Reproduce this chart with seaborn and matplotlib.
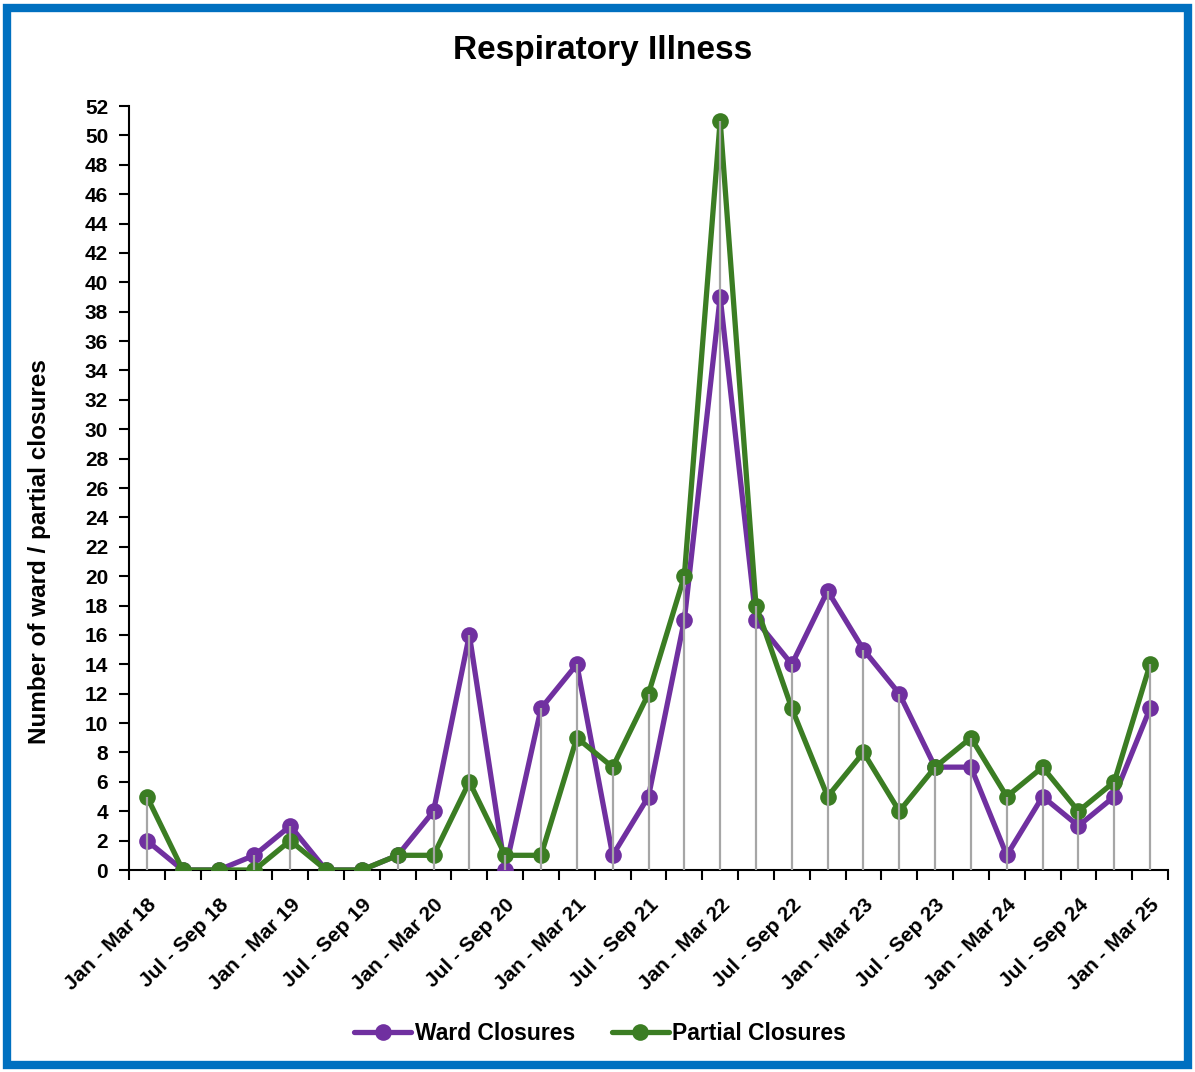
import numpy as np
import pandas as pd
import matplotlib
matplotlib.use("Agg")
import matplotlib.pyplot as plt
from matplotlib.patches import Rectangle
from matplotlib.ticker import FixedLocator, NullFormatter
import seaborn as sns

# Quarterly closures, Jan-Mar 2018 to Jan-Mar 2025
quarters = [
    "Jan - Mar 18", "Apr - Jun 18", "Jul - Sep 18", "Oct - Dec 18",
    "Jan - Mar 19", "Apr - Jun 19", "Jul - Sep 19", "Oct - Dec 19",
    "Jan - Mar 20", "Apr - Jun 20", "Jul - Sep 20", "Oct - Dec 20",
    "Jan - Mar 21", "Apr - Jun 21", "Jul - Sep 21", "Oct - Dec 21",
    "Jan - Mar 22", "Apr - Jun 22", "Jul - Sep 22", "Oct - Dec 22",
    "Jan - Mar 23", "Apr - Jun 23", "Jul - Sep 23", "Oct - Dec 23",
    "Jan - Mar 24", "Apr - Jun 24", "Jul - Sep 24", "Oct - Dec 24",
    "Jan - Mar 25",
]
ward_closures = [2, 0, 0, 1, 3, 0, 0, 1, 4, 16, 0, 11, 14, 1, 5, 17, 39,
                 17, 14, 19, 15, 12, 7, 7, 1, 5, 3, 5, 11]
partial_closures = [5, 0, 0, 0, 2, 0, 0, 1, 1, 6, 1, 1, 9, 7, 12, 20, 51,
                    18, 11, 5, 8, 4, 7, 9, 5, 7, 4, 6, 14]
series_names = ["Ward Closures", "Partial Closures"]
series_colors = ["#7030A0", "#3B7D23"]
y_ticks = list(range(0, 53, 2))

sns.set_theme(style="white")
plt.rcParams["font.family"] = ["Liberation Sans", "DejaVu Sans"]
plt.rcParams["font.weight"] = "bold"
for key in ["text.color", "axes.labelcolor", "xtick.color", "ytick.color"]:
    plt.rcParams[key] = "black"

idx = np.arange(len(quarters))
df = pd.concat([
    pd.DataFrame({"q": idx, "value": ward_closures, "series": series_names[0]}),
    pd.DataFrame({"q": idx, "value": partial_closures, "series": series_names[1]}),
])

W, H = 1195, 1072
fig = plt.figure(figsize=(W / 100, H / 100), dpi=100)
ax = fig.add_axes([129 / W, 1 - 870 / H, (1168 - 129) / W, (870 - 106) / H])

sns.lineplot(
    data=df, x="q", y="value", hue="series", hue_order=series_names,
    palette=series_colors, marker="o", markersize=12, linewidth=3.8,
    markeredgewidth=0, sort=False, ax=ax, zorder=3, legend=True,
)

# drop lines from the higher of the two series down to the axis
tops = np.maximum(ward_closures, partial_closures)
ax.vlines(idx, 0, tops, colors="#A6A6A6", linewidth=1.6, zorder=4)

ax.set_xlim(-0.5, len(quarters) - 0.5)
ax.set_ylim(0, 52)
ax.set_yticks(y_ticks)
ax.set_yticklabels([str(t) for t in y_ticks], fontsize=15, fontweight="bold")

# tick marks on category boundaries, labels on every other category
ax.xaxis.set_major_locator(FixedLocator(np.arange(-0.5, len(quarters), 1.0)))
ax.xaxis.set_major_formatter(NullFormatter())
ax.set_xticks(idx[::2], minor=True)
ax.set_xticklabels([quarters[i] for i in idx[::2]], minor=True,
                   rotation=45, ha="right", va="top", rotation_mode="anchor",
                   fontsize=15, fontweight="bold")
ax.tick_params(axis="x", which="major", direction="out", length=7, width=1.5,
               color="black", bottom=True)
ax.tick_params(axis="x", which="minor", length=0, pad=18, bottom=True)
ax.tick_params(axis="y", direction="out", length=7, width=1.5, color="black",
               left=True, pad=8)

for side in ["top", "right"]:
    ax.spines[side].set_visible(False)
for side in ["left", "bottom"]:
    ax.spines[side].set_color("black")
    ax.spines[side].set_linewidth(1.5)

ax.set_xlabel("")
ax.set_ylabel("")
fig.text(40 / W, 1 - 552 / H, "Number of ward / partial closures",
         rotation=90, ha="center", va="center", fontsize=17.5, fontweight="bold")
fig.text(603 / W, 1 - 50 / H, "Respiratory Illness",
         ha="center", va="center", fontsize=24, fontweight="bold")

handles, labels = ax.get_legend_handles_labels()
ax.get_legend().remove()
fig.legend(handles, labels, loc="center", bbox_to_anchor=(600 / W, 1 - 1034 / H),
           ncol=2, frameon=False, handlelength=2.5, columnspacing=1.6,
           handletextpad=0.15, prop={"weight": "bold", "size": 16.5})

fig.patches.append(Rectangle((7 / W, 7 / H), 1 - 14 / W, 1 - 15 / H,
                             transform=fig.transFigure, fill=False,
                             edgecolor="#0070C0", linewidth=6, zorder=10))

fig.savefig("out.png", dpi=100, facecolor="white")
